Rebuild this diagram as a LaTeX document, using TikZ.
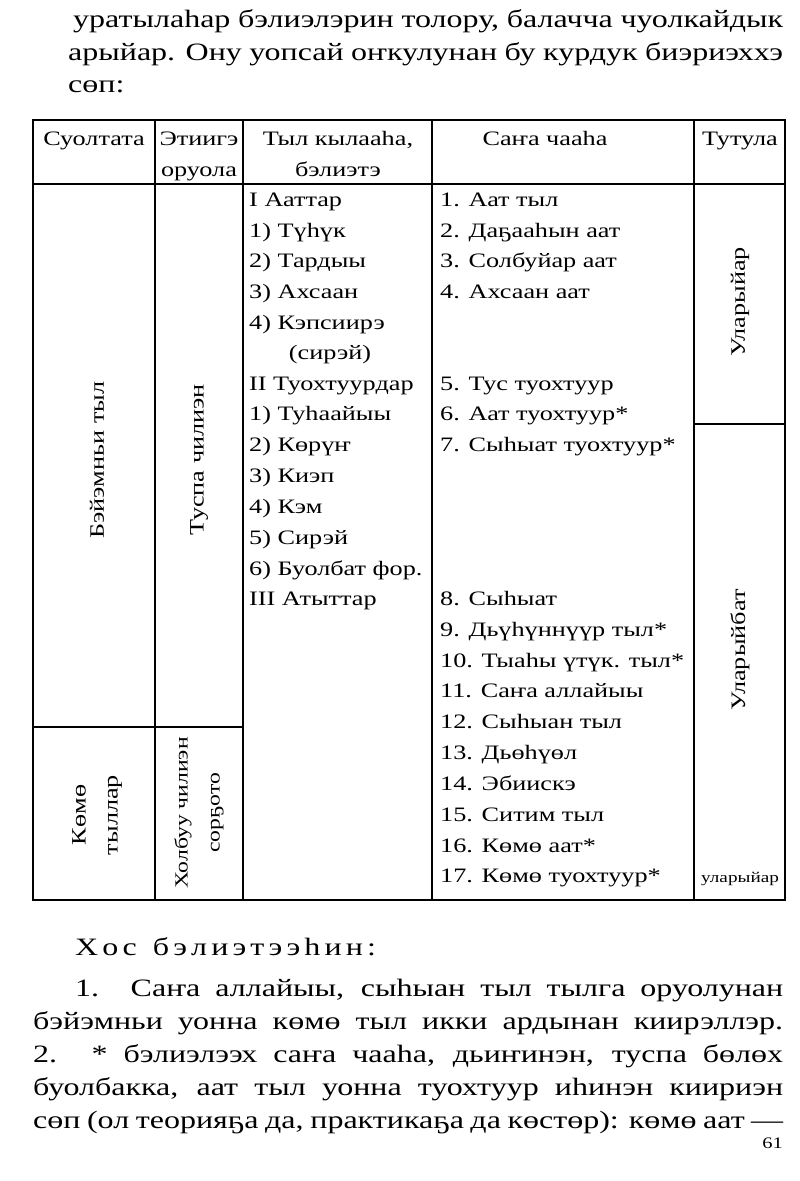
\documentclass[tikz,border=0pt]{standalone}
\usepackage{fontspec}
\setmainfont[FakeStretch=1.28]{Liberation Serif}
\begin{document}
\begin{tikzpicture}[x=1pt,y=-1pt,
  body/.style={anchor=base west,inner sep=0pt,font=\fontsize{25}{30}\selectfont},
  cell/.style={anchor=base west,inner sep=0pt,font=\fontsize{20.5}{23}\selectfont},
  ccell/.style={anchor=base,inner sep=0pt,font=\fontsize{20.5}{23}\selectfont},
  vcell/.style={rotate=90,align=center,inner sep=0pt,font=\fontsize{20.5}{32}\selectfont},
  rule/.style={line width=1.3pt}]
\useasboundingbox (0,0) rectangle (800,1181);
% body text top
\node[body] (t1) at (73,27) {\makebox[710pt][s]{уратылаһар бэлиэлэрин толору, балачча чуолкайдык}};
\node[body] (t2) at (68,60) {\makebox[715pt][s]{арыйар. Ону уопсай оҥкулунан бу курдук биэриэххэ}};
\node[body] (t3) at (68,92) {сөп:};
% table frame
\coordinate (tl) at (33,120); \coordinate (br) at (785,900);
\draw[rule] (tl) rectangle (br);
\draw[rule] (33,184) -- (785,184);
\draw[rule] (155,120) -- (155,900);
\draw[rule] (243,120) -- (243,900);
\draw[rule] (432,120) -- (432,900);
\draw[rule] (694,120) -- (694,900);
\draw[rule] (33,727) -- (243,727);
\draw[rule] (694,424) -- (785,424);
% header
\node[ccell] (h1) at (94,145) {Суолтата};
\node[ccell] (h2) at (199,145) {Этиигэ};
\node[ccell] (h2b) at (199,176) {оруола};
\node[ccell] (h3) at (338,145) {Тыл кылааһа,};
\node[ccell] (h3b) at (338,176) {бэлиэтэ};
\node[ccell] (h4) at (545,145) {Саҥа чааһа};
\node[ccell] (h5) at (740,145) {Тутула};
% column 3
\foreach \t/\y [count=\i] in {I Ааттар/206,1) Түһүк/237,2) Тардыы/267,3) Ахсаан/298,4) Кэпсиирэ/329,II Туохтуурдар/390,1) Туһаайыы/420,2) Көрүҥ/451,3) Киэп/482,4) Кэм/513,5) Сирэй/544,6) Буолбат фор./575,III Атыттар/605}
  \node[cell] (c\i) at (249,\y) {\t};
\node[ccell] (cs) at (330,359) {(сирэй)};
% column 4
\foreach \t/\y [count=\i] in {1. Аат тыл/206,2. Даҕааһын аат/237,3. Солбуйар аат/267,4. Ахсаан аат/298,5. Тус туохтуур/390,6. Аат туохтуур*/420,7. Сыһыат туохтуур*/451,8. Сыһыат/605,9. Дьүһүннүүр тыл*/636,10. Тыаһы үтүк. тыл*/667,11. Саҥа аллайыы/697,12. Сыһыан тыл/728,13. Дьөһүөл/759,14. Эбиискэ/790,15. Ситим тыл/821,16. Көмө аат*/852,17. Көмө туохтуур*/882}
  \node[cell] (d\i) at (440,\y) {\t};
% vertical labels
\node[vcell] (v1) at (97,460) {Бэйэмньи тыл};
\node[vcell] (v2) at (199,460) {Туспа чилиэн};
\node[vcell] (v3) at (97,815) {Көмө\\тыллар};
\node[vcell,font=\fontsize{18.5}{32}\selectfont] (v4) at (199,813) {Холбуу чилиэн\\сорҕото};
\node[vcell] (v5) at (740,302) {Уларыйар};
\node[vcell] (v6) at (740,650) {Уларыйбат};
\node[anchor=base,inner sep=0pt,font=\fontsize{15}{18}\selectfont] (v7) at (740,882) {уларыйар};
% body text bottom
\node[body] (b0) at (75,955) {Х\,о\,с\ \ б\,э\,л\,и\,э\,т\,э\,э\,һ\,и\,н\,:};
\node[body] (b1) at (75,996) {\makebox[708pt][s]{1. Саҥа аллайыы, сыһыан тыл тылга оруолунан}};
\node[body] (b2) at (33,1029) {\makebox[750pt][s]{бэйэмньи уонна көмө тыл икки ардынан киирэллэр.}};
\node[body] (b3) at (33,1062) {\makebox[750pt][s]{2. * бэлиэлээх саҥа чааһа, дьиҥинэн, туспа бөлөх}};
\node[body] (b4) at (33,1095) {\makebox[750pt][s]{буолбакка, аат тыл уонна туохтуур иһинэн киириэн}};
\node[body] (b5) at (33,1128) {\makebox[750pt][s]{сөп (ол теорияҕа да, практикаҕа да көстөр): көмө аат —}};
\node[anchor=base east,inner sep=0pt,font=\fontsize{16}{18}\selectfont] (pg) at (783,1148) {61};
\end{tikzpicture}
\end{document}
